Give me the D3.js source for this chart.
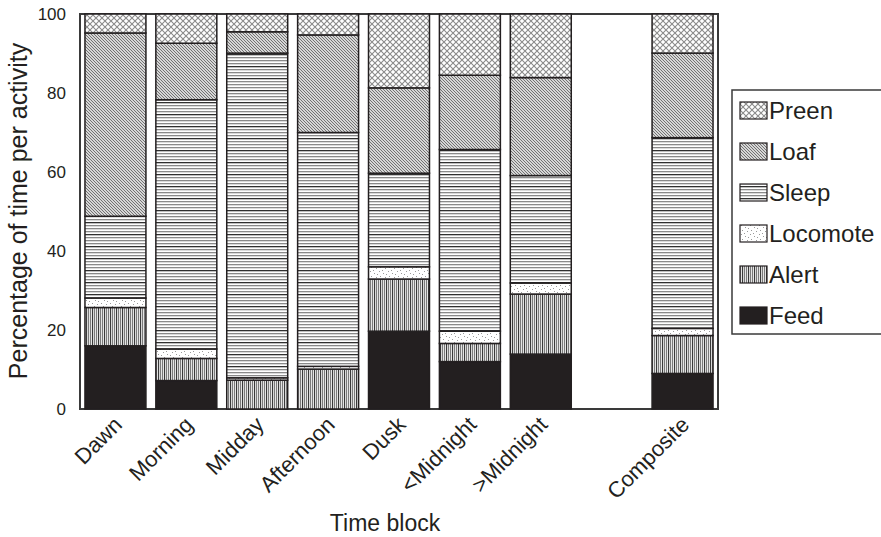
<!DOCTYPE html>
<html>
<head>
<meta charset="utf-8">
<script src="https://cdn.jsdelivr.net/npm/d3@7"></script>
<style>
  body { margin: 0; background: #fff; }
  text { font-family: "Liberation Sans", Arial, sans-serif; fill: #231f20; }
</style>
</head>
<body>
<svg id="vis" width="881" height="537"></svg>
<script>
// time blocks (an empty slot sits before Composite)
const blocks = ["Dawn", "Morning", "Midday", "Afternoon", "Dusk", "<Midnight", ">Midnight", "Composite"];
const slots = ["Dawn", "Morning", "Midday", "Afternoon", "Dusk", "<Midnight", ">Midnight", "gap", "Composite"];

// percentage of time per activity, one value per block
const feed     = [16.0,  7.2,  0.0,  0.0, 19.7, 12.0, 13.9,  9.0];
const alert    = [ 9.7,  5.6,  7.3, 10.1, 13.2,  4.6, 15.2,  9.6];
const locomote = [ 2.4,  2.4,  0.6,  0.7,  3.1,  3.1,  2.8,  1.8];
const sleep    = [20.7, 63.1, 82.2, 59.2, 23.7, 46.0, 27.2, 48.3];
const loaf     = [46.4, 14.3,  5.4, 24.7, 21.6, 18.8, 24.8, 21.4];
const preen    = [ 4.8,  7.4,  4.5,  5.3, 18.7, 15.5, 16.1,  9.9];

const activities = ["Feed", "Alert", "Locomote", "Sleep", "Loaf", "Preen"];
const yTicks = [0, 20, 40, 60, 80, 100];

const MARGINS = {top: 14, right: 163, bottom: 128, left: 80};
const W = 881, H = 537;
const INK = "#231f20";

const svg = d3.select("#vis");

// build rows for d3.stack
const seriesValues = {Feed: feed, Alert: alert, Locomote: locomote, Sleep: sleep, Loaf: loaf, Preen: preen};
const rows = blocks.map(function(b, i){
    const r = {block: b};
    activities.forEach(function(a){ r[a] = seriesValues[a][i]; });
    return r;
});
const stacked = d3.stack().keys(activities)(rows);

const x = d3.scaleBand()
    .domain(slots)
    .range([MARGINS.left, W - MARGINS.right])
    .paddingInner(0.14)
    .paddingOuter(0.07);

const y = d3.scaleLinear()
    .domain([0, 100])
    .range([H - MARGINS.bottom, MARGINS.top]);

// fill patterns
const defs = svg.append("defs");

function pattern(id, w, h){
    const p = defs.append("pattern")
        .attr("id", id)
        .attr("patternUnits", "userSpaceOnUse")
        .attr("width", w).attr("height", h);
    p.append("rect").attr("width", w).attr("height", h).attr("fill", "#fff");
    return p;
}

// Preen: cross hatch
pattern("p-preen", 6, 6).append("path")
    .attr("d", "M0,0L6,6M6,0L0,6")
    .attr("stroke", "#8a8a8a").attr("stroke-width", 1.1).attr("fill", "none");

// Loaf: dense diagonal lines
pattern("p-loaf", 3, 3).append("path")
    .attr("d", "M0,0L3,3M-1,2L1,4M2,-1L4,1")
    .attr("stroke", "#6a6a6a").attr("stroke-width", 1.05).attr("fill", "none");

// Sleep: horizontal lines
const ps = pattern("p-sleep", 4, 12);
[0, 3, 6, 9].forEach(function(v, i){
    ps.append("rect").attr("x", 0).attr("y", v).attr("width", 4).attr("height", 1.3)
        .attr("fill", i === 2 ? "#303030" : "#8a8a8a");
});

// Locomote: sparse stipple
const pl = pattern("p-locomote", 9, 9);
[[1,1],[5,3],[2,6],[7,7],[4,0],[8,4]].forEach(function(d){
    pl.append("rect").attr("x", d[0]).attr("y", d[1]).attr("width", 1).attr("height", 1)
        .attr("fill", "#9a9a9a");
});

// Alert: vertical lines
const pa = pattern("p-alert", 6, 4);
[0, 2, 4].forEach(function(v, i){
    pa.append("rect").attr("x", v).attr("y", 0).attr("width", 1.2).attr("height", 4)
        .attr("fill", i === 1 ? "#3a3a3a" : "#7a7a7a");
});

const fills = {
    Feed: INK,
    Alert: "url(#p-alert)",
    Locomote: "url(#p-locomote)",
    Sleep: "url(#p-sleep)",
    Loaf: "url(#p-loaf)",
    Preen: "url(#p-preen)"
};

// plot frame
svg.append("rect")
    .attr("x", MARGINS.left)
    .attr("y", MARGINS.top)
    .attr("width", W - MARGINS.right - MARGINS.left)
    .attr("height", H - MARGINS.bottom - MARGINS.top)
    .attr("fill", "none")
    .attr("stroke", "#3a3a3a")
    .attr("stroke-width", 2);

// stacked bars
svg.append("g").selectAll("g")
    .data(stacked)
    .enter()
    .append("g")
    .attr("fill", function(d){ return fills[d.key]; })
    .selectAll("rect")
    .data(function(d){ return d; })
    .enter()
    .append("rect")
    .attr("x", function(d){ return x(d.data.block); })
    .attr("width", x.bandwidth())
    .attr("y", function(d){ return y(d[1]); })
    .attr("height", function(d){ return y(d[0]) - y(d[1]); })
    .attr("stroke", INK)
    .attr("stroke-width", function(d){ return d[1] - d[0] > 0 ? 1.5 : 0; });

// y axis
const yAxis = svg.append("g")
    .attr("transform", `translate(${MARGINS.left}, 0)`)
    .call(d3.axisLeft(y).tickValues(yTicks).tickSize(0).tickPadding(14));
yAxis.select(".domain").remove();
yAxis.selectAll("text")
    .style("font-family", "'Liberation Sans', Arial, sans-serif")
    .style("font-size", "17px")
    .attr("fill", INK);

// x axis with rotated labels
const xAxis = svg.append("g")
    .attr("transform", `translate(0, ${H - MARGINS.bottom})`)
    .call(d3.axisBottom(x).tickValues(blocks).tickSize(0).tickFormat(function(d){ return d; }));
xAxis.select(".domain").remove();
xAxis.selectAll("text")
    .style("font-family", "'Liberation Sans', Arial, sans-serif")
    .style("font-size", "22px")
    .attr("fill", INK)
    .attr("text-anchor", "end")
    .attr("dy", null)
    .attr("y", 0)
    .attr("transform", "translate(8, 17) rotate(-45)");

// axis titles
svg.append("text")
    .attr("x", 385)
    .attr("y", 531)
    .attr("text-anchor", "middle")
    .style("font-size", "23px")
    .text("Time block");

svg.append("text")
    .attr("transform", "translate(27, 211) rotate(-90)")
    .attr("text-anchor", "middle")
    .style("font-size", "25px")
    .text("Percentage of time per activity");

// legend (runs off the right edge like the original)
const legend = svg.append("g").attr("transform", "translate(732, 90)");
legend.append("rect")
    .attr("width", 170).attr("height", 244)
    .attr("fill", "#fff").attr("stroke", "#3a3a3a").attr("stroke-width", 1.5);

const legendKeys = activities.slice().reverse();
const item = legend.selectAll("g.item")
    .data(legendKeys)
    .enter()
    .append("g")
    .attr("class", "item")
    .attr("transform", function(d, i){ return `translate(8, ${20 + i * 41})`; });
item.append("rect")
    .attr("width", 27).attr("height", 17).attr("y", -8)
    .attr("fill", function(d){ return fills[d]; })
    .attr("stroke", INK).attr("stroke-width", 1.2);
item.append("text")
    .attr("x", 29).attr("y", 9)
    .style("font-size", "24px")
    .text(function(d){ return d; });
</script>
</body>
</html>
